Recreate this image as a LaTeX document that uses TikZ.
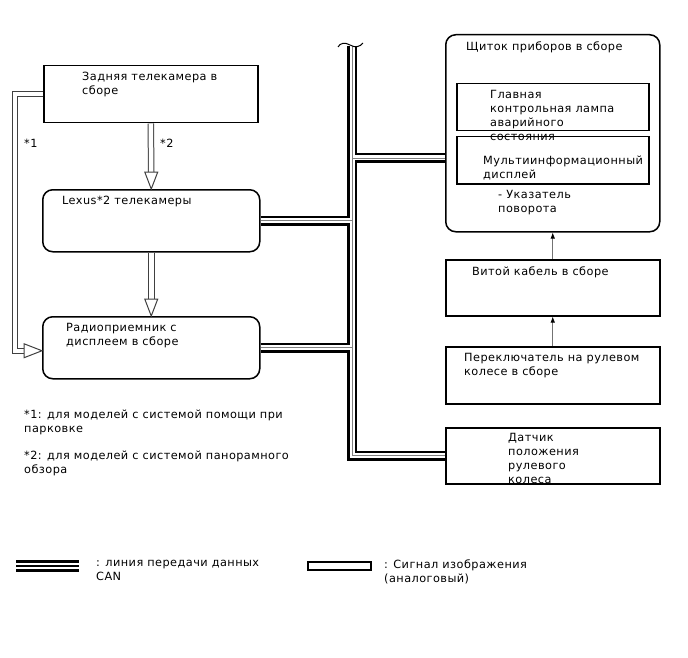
\documentclass[tikz,border=0pt]{standalone}
\usepackage{fontspec}
\setmainfont{DejaVu Sans}[LetterSpace=4]
\usetikzlibrary{calc,arrows.meta}
\tikzset{
  box/.style={draw, line width=1.5pt, anchor=north west, inner sep=0pt, fill=white},
  rbox/.style={box, rounded corners=10pt},
  txt/.style={anchor=north west, inner sep=0pt, align=left, yshift=-1.5pt},
  canA/.style={line width=10.5pt, draw=black, line join=miter},
  canB/.style={line width=5pt, draw=white, line join=miter},
  canC/.style={line width=0.8pt, draw=gray, line join=miter},
  imgsig/.style={draw=black!75, line width=1pt, double=white, double distance=4.5pt, line join=miter},
  imghead/.style={draw=black!75, line width=1pt, fill=white, line join=miter},
  thinarrow/.style={draw=black!55, line width=0.8pt, -{Latex[length=6pt,width=4.5pt,color=black]}},
}
\newcommand\canpaths[1]{%
  \draw[#1] (bustop) |- (dat.west);
  \draw[#1] (lex.east) -- (lex.east -| bustop);
  \draw[#1] (radio.east) -- (radio.east -| bustop);
  \draw[#1] (shchin) -- (shchin -| bustop);
}
\begin{document}
\begin{tikzpicture}[x=1pt,y=-1pt, font=\fontsize{11.3}{14}\selectfont]
\useasboundingbox (0,0) rectangle (688,658);

% boxes
\node[box, minimum width=214pt, minimum height=57pt] (cam) at (43,65) {};
\node[rbox, minimum width=217pt, minimum height=62pt] (lex) at (42,189) {};
\node[rbox, minimum width=217pt, minimum height=62pt] (radio) at (42,316) {};
\node[rbox, minimum width=214pt, minimum height=197pt] (shch) at (445,34) {};
\node[box, minimum width=192pt, minimum height=47pt] (lamp) at (456,83) {};
\node[box, minimum width=192pt, minimum height=47pt] (mfd) at (456,136) {};
\node[box, minimum width=214pt, minimum height=56pt] (vit) at (445,259) {};
\node[box, minimum width=214pt, minimum height=57pt] (pere) at (445,346) {};
\node[box, minimum width=214pt, minimum height=56pt] (dat) at (445,427) {};

% CAN bus
\coordinate (bustop) at (352,46);
\coordinate (shchin) at ($(shch.north west)+(0,124)$);
\canpaths{canA}
\canpaths{canB}
\canpaths{canC}
\draw[line width=1pt] (338,47) .. controls (340,43) and (345,42) .. (350,45) .. controls (355,48) and (360,47) .. (363,43);

% thin arrows
\draw[thinarrow] (vit.north) -- (shch.south);
\draw[thinarrow] (pere.north) -- (vit.south);

% image signal arrows
\draw[imgsig] (cam.south) -- ($(lex.north)+(0,-17)$);
\draw[imghead] (lex.north) -- ++(-6.5,-17) -- ++(13,0) -- cycle;
\draw[imgsig] (lex.south) -- ($(radio.north)+(0,-17)$);
\draw[imghead] (radio.north) -- ++(-6.5,-17) -- ++(13,0) -- cycle;
\draw[imgsig] (cam.west) -| ($(radio.west)+(-27,3)$) -- ($(radio.west)+(-18,3)$);
\draw[imghead] ($(radio.west)+(0,3)$) -- ++(-18,-7) -- ++(0,14) -- cycle;

% texts
\node[txt] (tcam) at (82,70) {Задняя телекамера в\\сборе};
\node[txt] (tlex) at (62,194) {Lexus*2 телекамеры};
\node[txt] (tradio) at (66,322) {Радиоприемник с\\дисплеем в сборе};
\node[txt] (tshch) at (466,40) {Щиток приборов в сборе};
\node[txt] (tlamp) at (490,89) {Главная\\контрольная лампа\\аварийного\\состояния};
\node[txt] (tmfd) at (483,154) {Мультиинформационный\\дисплей};
\node[txt] (tturn) at (498,189) {- Указатель\\поворота};
\node[txt] (tvit) at (472,265) {Витой кабель в сборе};
\node[txt] (tpere) at (464,352) {Переключатель на рулевом\\колесе в сборе};
\node[txt] (tdat) at (508,432) {Датчик\\положения\\рулевого\\колеса};
\node[txt] (s1) at (24,137) {*1};
\node[txt] (s2) at (160,137) {*2};
\node[txt] (fn1) at (24,408) {*1: для моделей с системой помощи при\\парковке};
\node[txt] (fn2) at (24,449) {*2: для моделей с системой панорамного\\обзора};

% legend
\coordinate (lga) at (16,566);
\coordinate (lgb) at (79,566);
\draw[canA, line width=12pt] (lga) -- (lgb);
\draw[canB, line width=6.5pt] (lga) -- (lgb);
\draw[black, line width=2pt] (lga) -- (lgb);
\node[txt] (leg1) at (96,558) {: линия передачи данных\\CAN};
\draw[line width=1.3pt] (308,562) rectangle (371,570);
\node[txt] (leg2) at (384,558) {: Сигнал изображения\\(аналоговый)};
\end{tikzpicture}
\end{document}
